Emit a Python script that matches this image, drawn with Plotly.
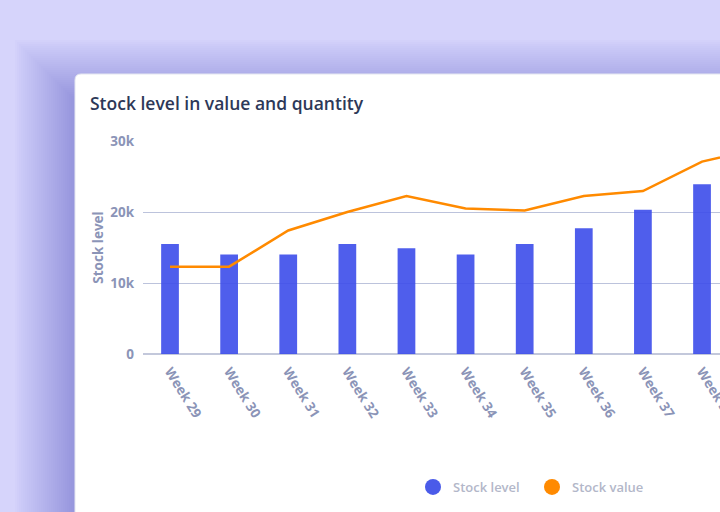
import plotly.graph_objects as go

weeks = ["Week 29", "Week 30", "Week 31", "Week 32", "Week 33", "Week 34",
         "Week 35", "Week 36", "Week 37", "Week 38", "Week 39"]
stock_level = [15500, 14000, 14000, 15500, 14900, 14000, 15500, 17700, 20300, 23900, 25500]
stock_value = [12300, 12300, 17400, 20000, 22250, 20500, 20200, 22250, 22950, 27100, 29000]

W, H = 720, 512
L, R, T, B = 143, 720, 141, 354  # plot area in pixels


def px_x(p):
    return (p - L) / (R - L)


def px_y(p):
    return (B - p) / (B - T)


fig = go.Figure()
fig.add_bar(x=weeks, y=stock_level, width=0.3, name="Stock level",
            marker=dict(color="rgba(60,77,234,0.9)", line=dict(width=0)),
            showlegend=False)
fig.add_scatter(x=weeks, y=stock_value, mode="lines", name="Stock value",
                line=dict(color="#ff8a00", width=2.5), showlegend=False)
# legend entries (circle symbols)
fig.add_scatter(x=[None], y=[None], mode="markers", name="Stock level",
                marker=dict(color="#4a5be9", size=18, symbol="circle"))
fig.add_scatter(x=[None], y=[None], mode="markers", name="Stock value",
                marker=dict(color="#ff8a00", size=18, symbol="circle"))

shapes = []
# card shadow (offset downward, soft)
for k in range(30, 0, -1):
    e = k * 2
    shapes.append(dict(type="rect", xref="paper", yref="paper", layer="below",
                       x0=px_x(75 - e), x1=px_x(780 + e),
                       y0=px_y(74 + 26 - e), y1=px_y(600 + e),
                       fillcolor="rgba(100,90,205,0.02)", line=dict(width=0)))
# card
r = 6
x0, y0 = 75, 74
x1, y1 = 780, 600
path = (f"M {px_x(x0)},{px_y(y1)} L {px_x(x0)},{px_y(y0 + r)} "
        f"Q {px_x(x0)},{px_y(y0)} {px_x(x0 + r)},{px_y(y0)} "
        f"L {px_x(x1)},{px_y(y0)} L {px_x(x1)},{px_y(y1)} Z")
shapes.append(dict(type="path", xref="paper", yref="paper", layer="below",
                   path=path, fillcolor="#ffffff",
                   line=dict(color="#e4e6f0", width=1)))

fig.update_layout(
    width=W, height=H,
    margin=dict(l=L, r=W - R, t=T, b=H - B, pad=0, autoexpand=False),
    paper_bgcolor="#d6d4fb",
    plot_bgcolor="rgba(0,0,0,0)",
    font=dict(family="Open Sans", color="#8d96b8"),
    shapes=shapes,
    title=dict(text="Stock level in value and quantity", x=90 / W, xref="container",
               xanchor="left", y=1 - 104 / H, yanchor="middle", yref="container",
               font=dict(family="Open Sans", size=17.5, color="#2d3858", weight=600)),
    showlegend=True,
    legend=dict(orientation="h", x=px_x(413), xanchor="left", y=px_y(487), yanchor="middle",
                font=dict(family="Open Sans", size=13, color="#b3b7c9", weight=600),
                bgcolor="rgba(0,0,0,0)", itemclick=False, entrywidth=74,
                entrywidthmode="pixels"),
    xaxis=dict(type="category", range=[-0.457, 9.304], showgrid=False,
               tickangle=58, ticks="", showline=False, zeroline=False,
               automargin=False,
               tickfont=dict(size=13.5, color="#8b94b7", weight=700),
               ticklabelstandoff=6),
    yaxis=dict(range=[0, 30000], tickvals=[0, 10000, 20000, 30000],
               ticktext=["0", "10k", "20k", "30k"], showgrid=True,
               automargin=False,
               gridcolor="#bcc3dc", gridwidth=1, zeroline=True,
               zerolinecolor="#c3c8db", zerolinewidth=1.5, showline=False,
               tickfont=dict(size=13.5, color="#8b94b7", weight=700),
               ticklabelstandoff=8,
               title=dict(text="Stock level", standoff=3,
                          font=dict(size=13.5, color="#8b94b7", weight=700))),
)
fig.write_html("out.html")
